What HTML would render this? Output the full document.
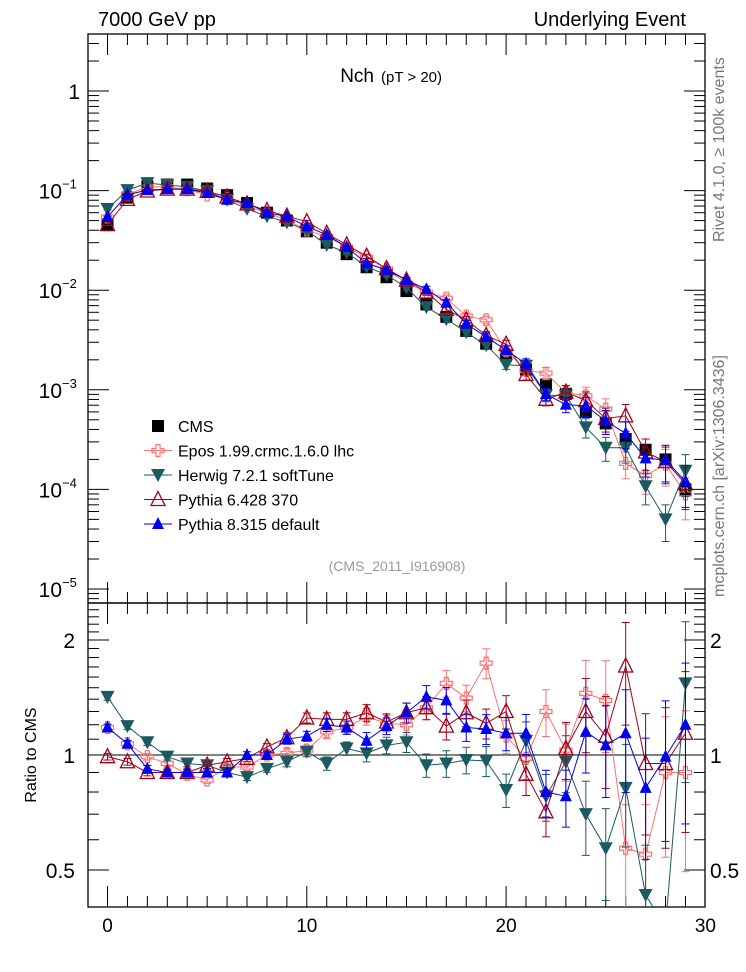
<!DOCTYPE html>
<html><head><meta charset="utf-8"><style>
html,body{margin:0;background:#fff;overflow:hidden;width:746px;height:972px}
svg{display:block}
svg text{font-family:"Liberation Sans",sans-serif}
</style></head><body>
<svg id="c" width="746" height="972" xmlns="http://www.w3.org/2000/svg"></svg>
<script>
const nch=[0,1,2,3,4,5,6,7,8,9,10,11,12,13,14,15,16,17,18,19,20,21,22,23,24,25,26,27,28,29];
const cmsVals=[0.046,0.085,0.11,0.115,0.115,0.105,0.09,0.075,0.06,0.05,0.039,0.03,0.023,0.017,0.0135,0.0098,0.0072,0.0054,0.0039,0.0029,0.0022,0.0016,0.00113,0.00091,0.0006,0.00046,0.00032,0.00025,0.0002,0.0001];
const eposRatio=[1.18,1.07,0.99,0.95,0.89,0.86,0.93,0.93,1.0,1.01,1.03,1.15,1.18,1.26,1.21,1.2,1.33,1.54,1.41,1.74,1.12,0.98,1.3,1.03,1.45,1.39,0.57,0.55,0.9,0.9];
const herwigRatio=[1.42,1.19,1.08,0.99,0.95,0.94,0.9,0.875,0.92,0.96,1.02,0.95,1.04,1.01,1.06,1.08,0.94,0.95,0.97,0.965,0.81,1.09,0.78,0.96,0.7,0.57,0.82,0.43,0.25,1.54];
const py6Ratio=[0.99,0.96,0.9,0.9,0.9,0.94,0.96,0.98,1.05,1.11,1.25,1.24,1.24,1.29,1.22,1.29,1.33,1.19,1.29,1.21,1.3,0.89,0.71,1.04,1.3,1.12,1.71,0.95,0.95,1.14];
const py8Ratio=[1.18,1.07,0.92,0.9,0.9,0.9,0.9,1.0,1.0,1.1,1.12,1.2,1.18,1.09,1.19,1.29,1.42,1.39,1.18,1.17,1.14,1.14,0.8,0.78,1.15,1.06,1.14,0.82,0.99,1.2];
const relErr=[0.02,0.02,0.02,0.02,0.02,0.02,0.02,0.02,0.02,0.03,0.03,0.04,0.04,0.05,0.05,0.06,0.07,0.08,0.08,0.09,0.1,0.12,0.14,0.17,0.22,0.27,0.3,0.35,0.4,0.45];
const xTicks=[0,10,20,30];

const S=document.getElementById('c');const NS='http://www.w3.org/2000/svg';
function el(t,a,p){const e=document.createElementNS(NS,t);for(const k in a)e.setAttribute(k,a[k]);(p||S).appendChild(e);return e;}
const L=88,R=705,T=34,MB=603,B=907;
const X=v=>107.5+v*19.93;
const Y=v=>91-99.6*Math.log10(v);
const YR=v=>755-382*Math.log10(v);
const cl=(y,a,b)=>Math.max(a,Math.min(b,y));
let f=el('rect',{x:L,y:T,width:R-L,height:MB-T,fill:'none',stroke:'#000','stroke-width':1.3});

f=el('rect',{x:L,y:MB,width:R-L,height:B-MB,fill:'none',stroke:'#000','stroke-width':1.3});

for(let i=-1;i<=30;i++){const x=X(i);if(x<L||x>R)continue;const len=i%10==0?21:11;
 for(const [y0,d] of [[T,1],[MB,-1],[MB,1],[B,-1]]) el('line',{x1:x,x2:x,y1:y0,y2:y0+d*len,stroke:'#000','stroke-width':1});}
xTicks.forEach(v=>{const t=el('text',{x:X(v),y:932,'font-size':19,'text-anchor':'middle'});t.textContent=v;
});
for(let e=-6;e<=1;e++)for(let m=1;m<10;m++){const v=m*Math.pow(10,e);const y=Y(v);if(y<T||y>MB)continue;const len=m==1?21:11;
 el('line',{x1:L,x2:L+len,y1:y,y2:y,stroke:'#000'});el('line',{x1:R,x2:R-len,y1:y,y2:y,stroke:'#000'});}
const ylab=[[1,'1',''],[0.1,'10','−1'],[0.01,'10','−2'],[0.001,'10','−3'],[1e-4,'10','−4'],[1e-5,'10','−5']];
ylab.forEach(([v,b,s])=>{const t=el('text',{x:s?62:80,y:Y(v)+8,'font-size':21,'text-anchor':'end'});t.textContent=b;
 
 if(s){const u=el('text',{x:62,y:Y(v)-2,'font-size':13});u.textContent=s;}});
for(let v=0.4;v<=2.55;v+=0.1){const vv=Math.round(v*10)/10;const y=YR(vv);if(y<MB||y>B)continue;const big=(vv==0.5||vv==1||vv==2);const len=big?21:11;
 el('line',{x1:L,x2:L+len,y1:y,y2:y,stroke:'#000'});el('line',{x1:R,x2:R-len,y1:y,y2:y,stroke:'#000'});}
[[2,'2'],[1,'1'],[0.5,'0.5']].forEach(([v,s])=>{for(const [x,a] of [[75,'end'],[710,'start']]){const t=el('text',{x:x,y:YR(v)+8,'font-size':21,'text-anchor':a});t.textContent=s;
 }});
el('line',{x1:L,x2:R,y1:YR(1),y2:YR(1),stroke:'#2a3a2a','stroke-width':1.3});
const series=[
 {name:'epos',r:eposRatio,c:'#ff7070',m:'cross',lbl:'Epos 1.99.crmc.1.6.0 lhc'},
 {name:'herwig',r:herwigRatio,c:'#1b5a60',m:'down',lbl:'Herwig 7.2.1 softTune'},
 {name:'pythia6',r:py6Ratio,c:'#a0001a',m:'otri',lbl:'Pythia 6.428 370'},
 {name:'pythia8',r:py8Ratio,c:'#0000ee',m:'tri',lbl:'Pythia 8.315 default'}];
function marker(m,x,y,c,g){
 if(m=='sq')return el('rect',{x:x-6,y:y-6,width:12,height:12,fill:c},g);
 if(m=='down')return el('polygon',{points:`${x-7},${y-6} ${x+7},${y-6} ${x},${y+7}`,fill:c},g);
 if(m=='tri')return el('polygon',{points:`${x-6},${y+5} ${x+6},${y+5} ${x},${y-7}`,fill:c},g);
 if(m=='otri')return el('polygon',{points:`${x-7},${y+6} ${x+7},${y+6} ${x},${y-8}`,fill:'none',stroke:c,'stroke-width':1.3},g);
 if(m=='cross')return el('path',{d:`M${x-2},${y-6}h4v4h4v4h-4v4h-4v-4h-4v-4h4z`,fill:'none',stroke:c,'stroke-width':1.2},g);
}
const gc=el('g',{});
nch.forEach((n,i)=>{const m=marker('sq',X(n),Y(cmsVals[i]),'#000',gc);});
series.forEach(s=>{
 const vals=cmsVals.map((v,i)=>v*s.r[i]);
 const g=el('g',{});
 const cp=el('clipPath',{id:'cm'+s.name});el('rect',{x:L,y:T,width:R-L,height:MB-T},cp);
 const cr=el('clipPath',{id:'cr'+s.name});el('rect',{x:L,y:MB,width:R-L,height:B-MB},cr);
 const gm=el('g',{'clip-path':`url(#cm${s.name})`},g);const gr=el('g',{'clip-path':`url(#cr${s.name})`},g);
 el('polyline',{points:nch.map((n,i)=>X(n)+','+cl(Y(vals[i]),T-20,MB+20)).join(' '),fill:'none',stroke:s.c,'stroke-width':1},gm);
 el('polyline',{points:nch.map((n,i)=>X(n)+','+cl(YR(s.r[i]),MB-20,B+20)).join(' '),fill:'none',stroke:s.c,'stroke-width':1},gr);
 nch.forEach((n,i)=>{const x=X(n);const e=relErr[i];
  for(const [gg,fn,v,a,b] of [[gm,Y,vals[i],T,MB],[gr,YR,s.r[i],MB,B]]){
   const y1=fn(v*(1+e)),y2=fn(v*(1-e)),yc=fn(v);
   const c1=cl(y1,a-2,b+2),c2=cl(y2,a-2,b+2);
   el('line',{x1:x,x2:x,y1:c1,y2:c2,stroke:s.c},gg);
   if(y1>=a&&y1<=b)el('line',{x1:x-4,x2:x+4,y1:y1,y2:y1,stroke:s.c},gg);
   if(y2>=a&&y2<=b)el('line',{x1:x-4,x2:x+4,y1:y2,y2:y2,stroke:s.c},gg);
   if(yc>a-10&&yc<b+10){const mk=marker(s.m,x,yc,s.c,gg);}}
 });
});
const lg=el('g',{});
const ent=[{m:'sq',c:'#000',lbl:'CMS'}].concat(series);
ent.forEach((s,k)=>{const y=426+k*24.5;const x=158;
 if(s.m!='sq'){el('line',{x1:x-14,x2:x+14,y1:y,y2:y,stroke:s.c},lg);}
 marker(s.m,x,y,s.c,lg);
 const t=el('text',{x:178,y:y+6,'font-size':16},lg);t.textContent=s.lbl;});
function tx(x,y,s,size,attrs,name){const t=el('text',Object.assign({x:x,y:y,'font-size':size},attrs||{}));t.textContent=s;return t;}
tx(98,26,'7000 GeV pp',20,{},'energy-label');
tx(686,26,'Underlying Event',20,{'text-anchor':'end'},'process-label');
tx(374,82,'Nch',19,{'text-anchor':'end'},'plot-title');
tx(381,82,'(pT > 20)',15,{},'plot-title-cut');
tx(397,571,'(CMS_2011_I916908)',14,{'text-anchor':'middle',fill:'#999'},'analysis-id');
tx(0,0,'Rivet 4.1.0, ≥ 100k events',16,{fill:'#777',transform:'translate(724,242) rotate(-90)'},'rivet-label');
tx(0,0,'mcplots.cern.ch [arXiv:1306.3436]',16,{fill:'#777',transform:'translate(724,597) rotate(-90)'},'mcplots-label');
tx(0,0,'Ratio to CMS',16,{'text-anchor':'middle',transform:'translate(36,755) rotate(-90)'},'ratio-axis-title');
</script>
</body></html>
